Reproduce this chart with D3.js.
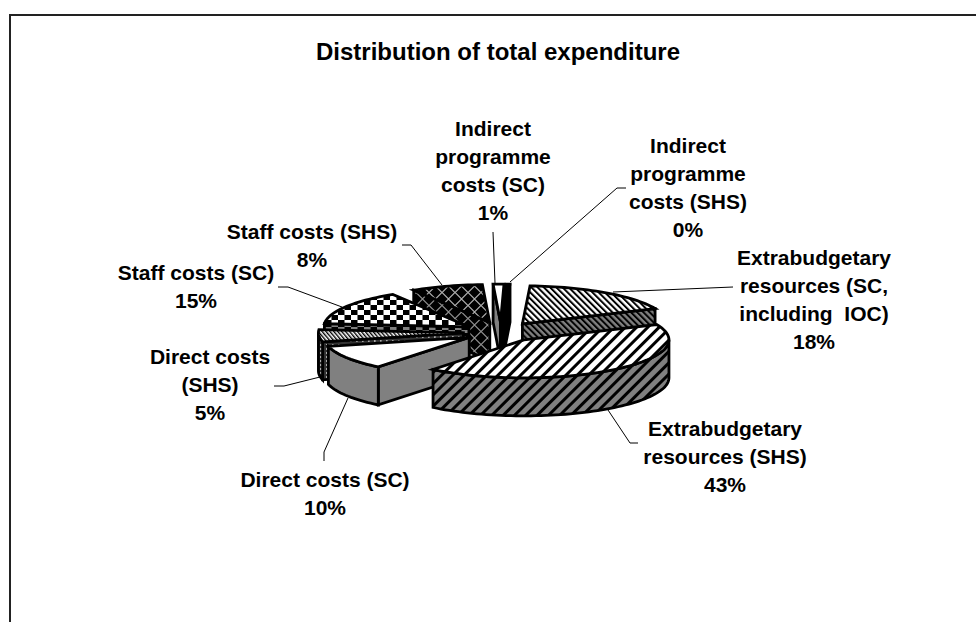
<!DOCTYPE html>
<html>
<head>
<meta charset="utf-8">
<style>
html, body { margin: 0; padding: 0; background: #fff; overflow: hidden; }
text { font-family: "Liberation Sans", Arial, sans-serif; font-weight: bold; fill: #000; text-anchor: middle; white-space: pre; }
</style>
<script src="https://cdn.jsdelivr.net/npm/d3@7"></script>
</head>
<body>
<svg id="chart" width="976" height="622"></svg>
<script>
// order follows the pie, clockwise from the top
var categories = [
    ['Extrabudgetary', 'resources (SC,', 'including  IOC)'],
    ['Extrabudgetary', 'resources (SHS)'],
    ['Direct costs (SC)'],
    ['Direct costs', '(SHS)'],
    ['Staff costs (SC)'],
    ['Staff costs (SHS)'],
    ['Indirect', 'programme', 'costs (SC)'],
    ['Indirect', 'programme', 'costs (SHS)']
];
var shares = [17.6, 42.5, 10.4, 5.2, 14.9, 8, 1.2, 0.45];
var percentLabels = ['18%', '43%', '10%', '5%', '15%', '8%', '1%', '0%'];

// label anchors and leader lines, in page pixels
var labelX = [814, 725, 325, 210, 196, 312, 493, 688];
var labelY = [265, 436, 487, 364, 280, 239, 136, 153];
var leaders = [
    [[733, 287], [613, 292]],
    [[638, 443], [630, 443], [608, 410]],
    [[324, 461], [324, 452], [348, 398]],
    [[274, 386], [284, 386], [320, 377]],
    [[278, 287], [288, 287], [342, 307]],
    [[402, 245], [411, 245], [442, 285]],
    [[493, 232], [495, 283]],
    [[626, 188], [617, 188], [510, 282]]
];
// back to front
var paintOrder = [5, 4, 6, 7, 0, 3, 2, 1];

var cx = 501, cy = 332, rx = 145, ry = 38, depth = 38, explode = 0.26;
var startDeg = 3;

var svg = d3.select('#chart');
var defs = svg.append('defs');

function pattern(id, w, h, rotate, bg, draw) {
    var p = defs.append('pattern').attr('id', id)
        .attr('patternUnits', 'userSpaceOnUse')
        .attr('width', w).attr('height', h);
    if(rotate)
        p.attr('patternTransform', 'rotate(' + rotate + ')');
    p.append('rect').attr('width', w).attr('height', h).attr('fill', bg);
    draw(p);
}
function stripes(id, period, thick, rotate, bg) {
    pattern(id, period, period, rotate, bg, function(p) {
        p.append('rect').attr('width', thick).attr('height', period).attr('fill', '#000');
    });
}
function checker(id, w, h, bg) {
    pattern(id, w * 2, h * 2, 0, bg, function(p) {
        p.append('rect').attr('width', w).attr('height', h).attr('fill', '#000');
        p.append('rect').attr('x', w).attr('y', h).attr('width', w).attr('height', h).attr('fill', '#000');
    });
}
function trellis(id, w, h, color) {
    pattern(id, w, h, 0, '#000', function(p) {
        p.append('path')
            .attr('d', 'M0,' + h/2 + 'L' + w/2 + ',0L' + w + ',' + h/2 + 'L' + w/2 + ',' + h + 'Z')
            .attr('fill', 'none').attr('stroke', color).attr('stroke-width', 1.1);
    });
}

stripes('extraScTop', 4.4, 2, -45, '#fff');
stripes('extraScSide', 4.4, 2, -45, '#808080');
stripes('extraShsTop', 8, 3, 45, '#fff');
stripes('extraShsSide', 8, 3, 45, '#808080');
checker('staffScTop', 6.5, 5, '#fff');
checker('staffScSide', 6.5, 3, '#808080');
trellis('staffShsTop', 13, 13, '#b0b0b0');
trellis('staffShsSide', 13, 13, '#909090');
stripes('directShsTop', 3, 1.4, -40, '#fff');
pattern('directShsSide', 6, 4, 0, '#333', function(p) {
    p.append('rect').attr('x', 2).attr('y', 0).attr('width', 1.6).attr('height', 2).attr('fill', '#aaa');
});

var topFills = ['url(#extraScTop)', 'url(#extraShsTop)', '#fff', 'url(#directShsTop)',
                'url(#staffScTop)', 'url(#staffShsTop)', '#fff', '#000'];
var sideFills = ['url(#extraScSide)', 'url(#extraShsSide)', '#808080', 'url(#directShsSide)',
                 'url(#staffScSide)', 'url(#staffShsSide)', '#808080', '#000'];

var xScale = d3.scaleLinear().domain([-1, 1]).range([cx - rx, cx + rx]);
var yScale = d3.scaleLinear().domain([-1, 1]).range([cy - ry, cy + ry]);

var rad = Math.PI / 180;
var pie = d3.pie().sort(null)
    .startAngle(startDeg * rad)
    .endAngle((startDeg + 360) * rad);
var arcs = pie(shares);

// ground plane point -> page, z is how far down the wall
function project(u, v, z) {
    return [xScale(u), yScale(v) + (z || 0)];
}

function sliceGeometry(a) {
    var mid = (a.startAngle + a.endAngle) / 2;
    var ox = explode * Math.sin(mid), oy = -explode * Math.cos(mid);
    return {
        apex: function(z) { return project(ox, oy, z); },
        rim: function(t, z) { return project(ox + Math.sin(t), oy - Math.cos(t), z); }
    };
}

function rimSamples(t0, t1) {
    var n = Math.max(2, Math.ceil(Math.abs(t1 - t0) / (2 * rad)));
    return d3.range(n + 1).map(function(i) { return t0 + (t1 - t0) * i / n; });
}

var line = d3.line();
var pieG = svg.append('g').attr('class', 'pie');

function face(g, pts, fill) {
    g.append('path')
        .attr('d', line(pts) + 'Z')
        .attr('fill', fill)
        .attr('stroke', '#000')
        .attr('stroke-width', 2.8)
        .attr('stroke-linejoin', 'miter');
}

paintOrder.forEach(function(i) {
    var a = arcs[i], geo = sliceGeometry(a);
    var g = pieG.append('g').attr('class', 'slice');
    // cut faces, only the ones turned to the viewer
    if(Math.sin(a.startAngle) < 0)
        face(g, [geo.apex(0), geo.rim(a.startAngle, 0), geo.rim(a.startAngle, depth), geo.apex(depth)], sideFills[i]);
    if(Math.sin(a.endAngle) > 0)
        face(g, [geo.apex(0), geo.rim(a.endAngle, 0), geo.rim(a.endAngle, depth), geo.apex(depth)], sideFills[i]);
    // outer wall, front half of the ellipse
    var w0 = Math.max(a.startAngle, 90 * rad), w1 = Math.min(a.endAngle, 270 * rad);
    if(w1 > w0) {
        var ts = rimSamples(w0, w1);
        var upper = ts.map(function(t) { return geo.rim(t, 0); });
        var lower = ts.slice().reverse().map(function(t) { return geo.rim(t, depth); });
        face(g, upper.concat(lower), sideFills[i]);
    }
    var rimPts = rimSamples(a.startAngle, a.endAngle).map(function(t) { return geo.rim(t, 0); });
    face(g, [geo.apex(0)].concat(rimPts), topFills[i]);
});

// leaders
svg.append('g').selectAll('path').data(leaders).enter().append('path')
    .attr('d', function(d) { return line(d); })
    .attr('fill', 'none').attr('stroke', '#000').attr('stroke-width', 1);

// labels
var lineStep = 28;
var labels = svg.append('g').selectAll('text').data(categories).enter().append('text')
    .attr('font-size', 21)
    .attr('x', function(d, i) { return labelX[i]; })
    .attr('y', function(d, i) { return labelY[i]; });
labels.selectAll('tspan')
    .data(function(d, i) { return d.concat([percentLabels[i]]); })
    .enter().append('tspan')
    .attr('x', function() { return this.parentNode.getAttribute('x'); })
    .attr('dy', function(d, j) { return j ? lineStep : 0; })
    .text(function(d) { return d; });

svg.append('text').attr('x', 498).attr('y', 60).attr('font-size', 24)
    .text('Distribution of total expenditure');

// chart frame runs off the page on the right and at the bottom
svg.append('path')
    .attr('d', 'M976,15H10V622')
    .attr('fill', 'none').attr('stroke', '#222').attr('stroke-width', 2);
</script>
</body>
</html>
